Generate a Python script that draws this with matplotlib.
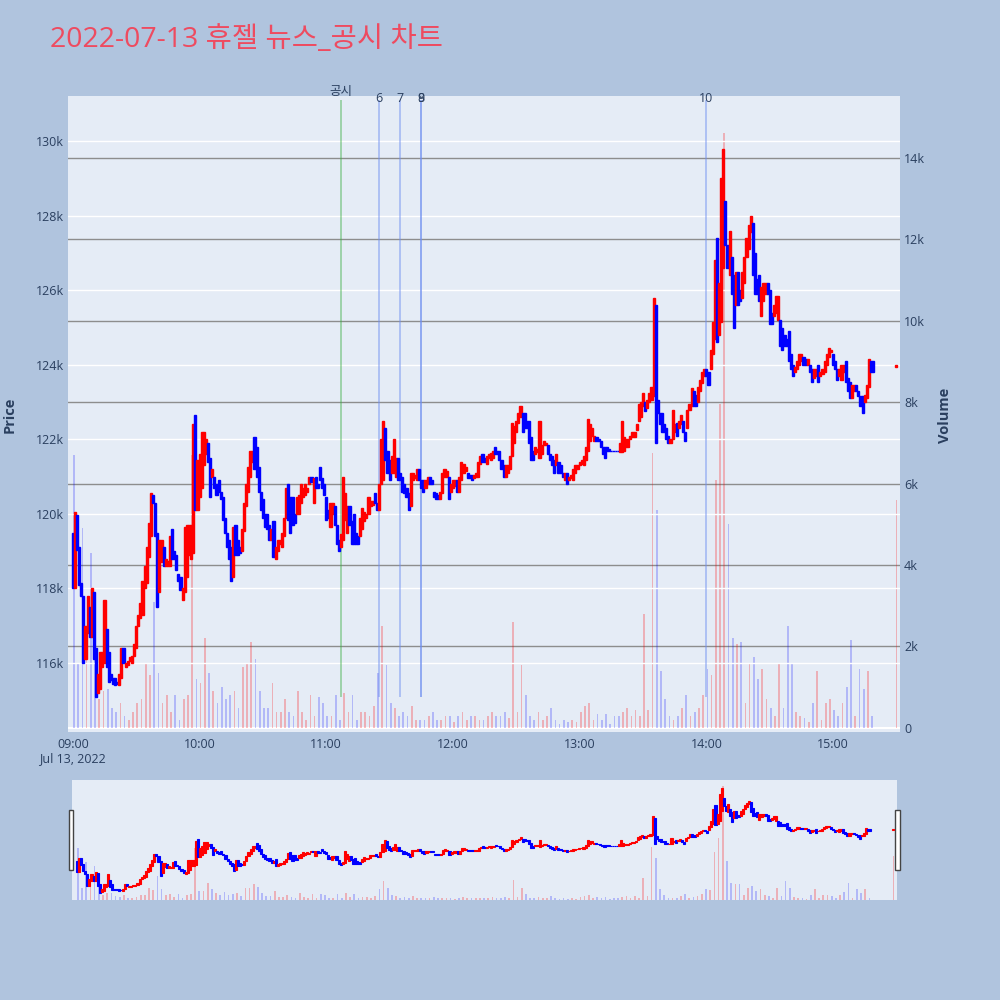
import matplotlib
matplotlib.use('Agg')
import matplotlib.pyplot as plt
from matplotlib.patches import Rectangle
import numpy as np

plt.rcParams['font.family'] = ['Open Sans', 'Noto Sans CJK KR', 'DejaVu Sans']

# ---------------- data ----------------
title = "2022-07-13 휴젤 뉴스_공시 차트"

# 1-minute candles, minute 0 = 09:00 ... minute 379 = 15:19 (prices in thousand won)
opens_k = [
    119.5, 118.0, 119.97, 119.1, 118.15, 117.8, 116.1, 116.8, 117.5, 116.7,
    117.9, 116.4, 115.2, 115.3, 115.9, 116.0, 116.9, 116.3, 115.7, 115.6,
    115.6, 115.5, 115.4, 115.6, 116.4, 115.9, 115.95, 116.05, 116.0, 116.2,
    116.4, 117.0, 117.2, 117.3, 118.0, 118.15, 118.85, 119.4, 120.5, 120.3,
    119.5, 117.9, 118.7, 119.1, 118.6, 118.6, 118.6, 119.6, 119.0, 118.9,
    118.4, 118.3, 117.7, 117.9, 118.3, 118.9, 118.8, 118.95, 122.65, 120.1,
    120.45, 120.7, 121.3, 121.6, 121.9, 121.5, 121.0, 121.0, 120.8, 120.9,
    120.6, 120.45, 119.9, 119.5, 119.3, 119.1, 118.3, 119.7, 119.3, 119.1,
    119.0, 119.55, 120.2, 120.6, 121.0, 121.4, 122.05, 121.8, 121.25, 120.6,
    120.4, 120.0, 120.0, 119.7, 119.3, 119.8, 118.8, 119.0, 119.2, 119.1,
    119.4, 119.9, 120.8, 120.45, 120.45, 120.0, 120.0, 120.0, 120.3, 120.45,
    120.5, 120.6, 120.8, 121.0, 120.3, 121.0, 120.8, 121.25, 120.95, 120.8,
    120.45, 120.1, 119.65, 120.0, 120.2, 119.7, 119.3, 119.1, 119.3, 119.85,
    119.5, 120.2, 119.8, 120.0, 119.5, 119.4, 119.4, 119.6, 119.8, 119.9,
    120.0, 120.2, 120.25, 120.55, 120.3, 120.1, 120.8, 120.9, 122.3, 121.7,
    121.45, 121.1, 121.1, 121.0, 121.5, 121.1, 121.0, 120.8, 120.7, 120.55,
    120.2, 120.9, 120.95, 120.9, 121.2, 120.9, 120.9, 120.7, 120.8, 121.0,
    120.9, 120.6, 120.55, 120.5, 120.4, 120.55, 121.0, 121.0, 121.0, 120.6,
    120.7, 120.75, 120.9, 120.6, 120.9, 121.1, 121.15, 121.1, 121.05, 121.05,
    120.95, 121.0, 121.0, 121.35, 121.6, 121.5, 121.35, 121.5, 121.45, 121.5,
    121.8, 121.7, 121.7, 121.45, 121.3, 121.0, 121.1, 121.2, 121.55, 121.9,
    122.2, 122.45, 122.6, 122.7, 122.7, 122.5, 122.5, 122.05, 121.7, 121.6,
    121.65, 121.5, 121.6, 121.85, 121.85, 121.85, 121.6, 121.55, 121.45, 121.3,
    121.4, 121.3, 121.1, 120.9, 121.1, 120.9, 120.95, 120.9, 121.1, 121.2,
    121.3, 121.35, 121.3, 121.45, 121.7, 121.95, 122.1, 121.95, 122.05, 122.0,
    121.95, 121.8, 121.8, 121.8, 121.75, 121.7, 121.7, 121.7, 121.7, 121.65,
    121.65, 121.7, 121.8, 121.8, 122.0, 122.05, 122.05, 122.25, 122.5, 122.6,
    122.9, 123.0, 122.85, 123.0, 123.05, 123.15, 125.6, 123.05, 122.7, 122.7,
    122.4, 122.3, 122.1, 121.9, 122.0, 122.2, 122.45, 122.3, 122.4, 122.5,
    122.2, 122.3, 122.8, 122.9, 123.3, 123.2, 123.0, 123.3, 123.5, 123.7,
    123.9, 123.8, 123.9, 124.3, 124.7, 127.4, 124.8, 125.15, 126.6, 128.4,
    127.2, 126.4, 126.9, 126.4, 125.6, 126.5, 126.0, 125.8, 126.2, 126.9,
    127.1, 127.55, 127.8, 127.0, 126.3, 126.4, 125.3, 125.7, 125.9, 126.2,
    126.0, 125.4, 125.3, 125.4, 125.2, 125.2, 125.0, 124.8, 124.7, 124.9,
    124.3, 124.0, 123.8, 123.9, 124.0, 124.1, 124.2, 124.15, 124.0, 124.0,
    123.9, 123.65, 123.7, 124.0, 123.7, 123.75, 123.8, 124.0, 124.2, 124.35,
    124.3, 124.1, 123.9, 123.7, 123.6, 123.8, 124.1, 123.65, 123.55, 123.1,
    123.3, 123.45, 123.3, 123.15, 123.15, 123.0, 123.1, 123.4, 124.1, 124.1,
]
closes_k = [
    118.0, 120.05, 119.03, 118.1, 117.8, 116.0, 117.0, 117.8, 116.7, 118.0,
    116.1, 115.1, 115.7, 116.3, 116.3, 117.7, 115.9, 115.5, 115.55, 115.45,
    115.4, 115.45, 115.7, 116.4, 116.0, 116.0, 116.05, 116.15, 116.2, 116.5,
    117.0, 117.3, 117.6, 118.2, 118.6, 119.1, 119.75, 120.55, 120.3, 119.4,
    117.5, 119.3, 119.3, 118.6, 118.8, 118.75, 119.4, 118.8, 118.8, 118.5,
    118.2, 117.95, 118.0, 119.65, 119.7, 119.7, 119.7, 122.4, 120.1, 121.45,
    121.6, 122.2, 122.2, 122.0, 121.4, 120.45, 121.2, 120.7, 120.5, 120.6,
    120.4, 119.85, 119.5, 119.1, 118.8, 118.2, 119.65, 118.9, 118.9, 118.95,
    119.6, 120.3, 120.8, 121.25, 121.7, 121.7, 121.2, 121.0, 120.6, 120.1,
    119.9, 119.65, 119.6, 119.3, 119.6, 118.85, 119.1, 119.3, 119.3, 119.5,
    119.9, 120.7, 119.85, 119.5, 119.7, 119.75, 120.45, 120.5, 120.8, 120.7,
    120.8, 120.7, 121.0, 120.85, 120.95, 120.7, 120.7, 120.9, 120.7, 120.5,
    119.85, 119.9, 120.3, 120.3, 119.7, 119.2, 119.0, 119.45, 121.0, 120.55,
    120.2, 119.7, 119.2, 119.2, 119.2, 119.2, 119.9, 120.15, 120.05, 120.0,
    120.45, 120.35, 120.35, 120.3, 120.1, 120.8, 122.0, 122.5, 121.45, 121.1,
    120.9, 121.55, 122.0, 121.5, 120.9, 120.9, 120.6, 120.55, 120.45, 120.1,
    121.1, 121.1, 121.05, 121.2, 120.9, 120.7, 120.6, 120.9, 121.0, 120.8,
    120.8, 120.45, 120.4, 120.4, 120.6, 121.1, 121.2, 121.15, 120.4, 120.8,
    120.9, 120.9, 120.6, 121.0, 121.4, 121.35, 121.25, 120.95, 120.95, 120.9,
    121.05, 121.1, 121.4, 121.55, 121.4, 121.4, 121.55, 121.6, 121.63, 121.7,
    121.6, 121.6, 121.45, 121.2, 121.0, 121.3, 121.3, 121.55, 122.45, 122.35,
    122.5, 122.7, 122.9, 122.2, 122.3, 122.3, 121.9, 121.45, 121.45, 121.8,
    121.75, 122.5, 121.85, 121.95, 121.9, 121.6, 121.45, 121.3, 121.1, 121.6,
    121.1, 121.1, 121.0, 121.1, 120.8, 121.0, 121.05, 121.2, 121.3, 121.3,
    121.4, 121.45, 121.55, 121.8, 122.55, 122.4, 122.3, 122.1, 121.95, 121.95,
    121.8, 121.6, 121.5, 121.7, 121.7, 121.7, 121.7, 121.7, 121.7, 121.9,
    122.5, 122.05, 122.0, 122.0, 122.1, 122.2, 122.2, 122.4, 122.95, 123.0,
    123.25, 122.75, 123.05, 123.25, 123.4, 125.8, 121.9, 122.7, 122.4, 122.2,
    122.2, 122.0, 121.9, 122.0, 122.8, 122.4, 122.1, 122.5, 122.65, 122.2,
    121.95, 122.8, 122.95, 123.38, 122.9, 122.9, 123.4, 123.6, 123.8, 123.9,
    123.7, 123.45, 124.4, 125.15, 126.8, 124.6, 126.2, 129.0, 129.8, 127.2,
    126.6, 127.6, 125.9, 125.0, 126.5, 125.6, 125.7, 126.5, 126.9, 127.4,
    127.75, 128.0, 126.4, 125.9, 125.9, 125.7, 126.1, 126.2, 126.2, 125.9,
    125.1, 125.1, 125.6, 125.85, 125.85, 124.5, 124.4, 124.5, 124.5, 124.1,
    123.9, 123.7, 123.95, 124.1, 124.3, 124.3, 124.0, 124.0, 124.15, 123.8,
    123.55, 123.9, 123.9, 123.55, 123.8, 123.9, 124.1, 124.3, 124.45, 124.4,
    124.0, 123.9, 123.6, 123.9, 124.0, 124.0, 123.55, 123.3, 123.1, 123.45,
    123.45, 123.3, 123.15, 122.9, 122.7, 123.2, 123.45, 124.15, 123.8, 123.8,
]
# volume in 2-minute bins (shares), bin i covers minutes 2i..2i+1
volumes = [
    6700, 1600, 4900, 2400, 4300, 1800, 700, 900, 950, 500,
    400, 600, 300, 200, 400, 600, 700, 1600, 1300, 3100,
    1350, 600, 800, 400, 800, 200, 700, 800, 6700, 1200,
    1100, 2200, 1350, 900, 600, 1000, 700, 800, 900, 500,
    1500, 1600, 2100, 1700, 900, 500, 500, 1100, 400, 400,
    700, 400, 300, 900, 400, 200, 800, 300, 750, 600,
    300, 300, 800, 200, 850, 400, 800, 200, 400, 400,
    300, 550, 1350, 2500, 1550, 600, 500, 300, 400, 300,
    550, 200, 200, 200, 300, 400, 200, 200, 300, 300,
    150, 300, 400, 200, 300, 300, 200, 200, 300, 400,
    300, 300, 400, 250, 2600, 400, 1550, 800, 300, 200,
    400, 200, 300, 500, 200, 100, 200, 150, 200, 150,
    400, 550, 600, 200, 350, 200, 350, 100, 300, 300,
    400, 500, 300, 450, 300, 2800, 450, 6750, 5350, 1400,
    700, 300, 200, 300, 500, 800, 300, 400, 500, 800,
    1450, 1300, 6100, 7950, 14600, 5000, 2200, 2050, 2100, 600,
    1600, 1750, 1200, 1450, 700, 500, 300, 1600, 500, 2500,
    1600, 400, 300, 250, 150, 600, 1400, 200, 600, 700,
    450, 300, 600, 1000, 2150, 300, 1450, 950, 1400, 300,
]
# closing auction at 15:30
auction_minute = 390
auction_open_k = 123.95
auction_close_k = 124.0
auction_volume = 5600

# news / disclosure markers (minutes after 09:00)
event_minutes = [127, 145, 155, 165, 165, 300]
event_labels = ['공시', '6', '7', '8', '9', '10']
event_kinds = ['공시', '뉴스', '뉴스', '뉴스', '뉴스', '뉴스']

tick_minutes = [0, 60, 120, 180, 240, 300, 360]
tick_labels = ['09:00', '10:00', '11:00', '12:00', '13:00', '14:00', '15:00']
date_label = 'Jul 13, 2022'
price_ticks = [116000, 118000, 120000, 122000, 124000, 126000, 128000, 130000]
volume_ticks = [0, 2000, 4000, 6000, 8000, 10000, 12000, 14000]

# ---------------- styling ----------------
PAPER = '#B0C4DE'
PLOT = '#E5ECF6'
TXT = '#2a3f5f'
RED = '#FF0000'
BLUE = '#0000FF'
VRED = (1.0, 0.0, 0.0, 0.25)
VBLUE = (0.0, 0.0, 1.0, 0.22)

o = np.array(opens_k + [auction_open_k]) * 1000
c = np.array(closes_k + [auction_close_k]) * 1000
t = np.append(np.arange(len(opens_k), dtype=float), auction_minute)
up = c > o

n_bins = len(volumes)
vt = np.append(np.arange(n_bins) * 2.0 + 0.5, auction_minute)
vv = np.array(volumes + [auction_volume], dtype=float)
vup = np.append(up[np.arange(n_bins) * 2], up[-1])

XMIN, XMAX = -2.3, 391.7

fig = plt.figure(figsize=(10, 10), dpi=100, facecolor=PAPER)


def draw(axp, axv, body_w, lw, vol_w):
    bottom = np.minimum(o, c)
    height = np.abs(c - o)
    cols = [RED if u else BLUE for u in up]
    vcols = [VRED if u else VBLUE for u in vup]
    axv.bar(vt, vv, width=vol_w, color=vcols, linewidth=0, zorder=2)
    axp.bar(t, height, bottom=bottom, width=body_w, color=cols,
            edgecolor=cols, linewidth=lw, zorder=3)


# main panel
axp = fig.add_axes([0.068, 0.268, 0.832, 0.636])
axv = axp.twinx()
axp.set_zorder(2)
axv.set_zorder(1)
axp.patch.set_visible(False)
axv.patch.set_visible(True)
axv.patch.set_facecolor(PLOT)

draw(axp, axv, 1.0, 1.0, 0.8)

axp.set_xlim(XMIN, XMAX)
axp.set_ylim(114150, 131210)
axv.set_ylim(-100, 15520)

for s in list(axp.spines.values()) + list(axv.spines.values()):
    s.set_visible(False)

axp.set_yticks(price_ticks)
axp.set_yticklabels([f'{p // 1000}k' for p in price_ticks])
axv.set_yticks(volume_ticks)
axv.set_yticklabels(['0' if q == 0 else f'{q // 1000}k' for q in volume_ticks])
axp.set_xticks(tick_minutes)
labels = list(tick_labels)
labels[0] = labels[0] + '\n' + date_label
axp.set_xticklabels(labels, linespacing=1.15)
for a in (axp, axv):
    a.tick_params(length=0, labelsize=9, labelcolor=TXT, pad=3)
axp.tick_params(axis='x', pad=4)

for p in price_ticks:
    axp.axhline(p, color='white', lw=1.0, zorder=1)
for q in volume_ticks[1:]:
    axv.axhline(q, color='#8d8d8d', lw=1.0, zorder=1)
axv.axhline(0, color='white', lw=1.5, zorder=1)

# event lines
for m, lab, kind in zip(event_minutes, event_labels, event_kinds):
    col = '#3cb043' if kind == '공시' else '#6f8ff0'
    alpha = 0.5 if kind == '공시' else 0.55
    axp.vlines(m, 115100, 131100, color=col, lw=1.2, alpha=alpha, zorder=2.5)
    off = 1.7 if kind == '공시' else -3.3
    axp.annotate(lab, xy=(m, 131100), xytext=(0, off), textcoords='offset points',
                 ha='center', va='bottom', fontsize=9, color=TXT,
                 annotation_clip=False)

fig.text(0.010, 0.585, 'Price', rotation=90, ha='center', va='center',
         fontsize=10.5, fontweight='bold', color=TXT)
fig.text(0.945, 0.585, 'Volume', rotation=90, ha='center', va='center',
         fontsize=10.5, fontweight='bold', color=TXT)

fig.text(0.05, 0.960, title, ha='left', va='center', fontsize=20.5,
         color='#EE4B60')

# range slider
sp = fig.add_axes([0.072, 0.100, 0.825, 0.120])
sv = sp.twinx()
sp.set_zorder(2)
sv.set_zorder(1)
sp.patch.set_visible(False)
sv.patch.set_visible(True)
sv.patch.set_facecolor(PLOT)
draw(sp, sv, 1.0, 0.8, 0.8)
sp.set_xlim(XMIN, XMAX)
sp.set_ylim(114100, 130900)
sv.set_ylim(0, 15400)
for a in (sp, sv):
    a.set_xticks([])
    a.set_yticks([])
    for s in a.spines.values():
        s.set_visible(False)

for x0 in (0.0685, 0.8950):
    fig.patches.append(Rectangle((x0, 0.130), 0.0045, 0.060, transform=fig.transFigure,
                                 facecolor='white', edgecolor='#444444', lw=1.0))

fig.savefig('out.png', dpi=100, facecolor=PAPER)
